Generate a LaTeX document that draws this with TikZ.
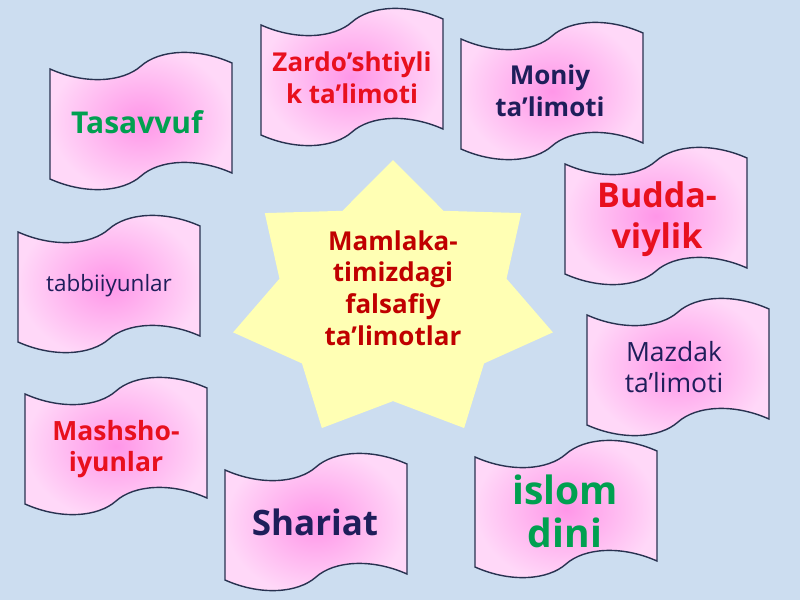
\documentclass[tikz,border=0pt]{standalone}
\usepackage{fontspec}
\setmainfont{Open Sans}
\usetikzlibrary{positioning}
\definecolor{skyback}{RGB}{204,221,240}
\definecolor{flagedge}{RGB}{40,50,80}
\definecolor{flagpink}{RGB}{255,216,248}
\definecolor{flagmagenta}{RGB}{255,150,232}
\definecolor{starfill}{RGB}{255,255,180}
\definecolor{stared}{RGB}{192,0,0}
\definecolor{flagred}{RGB}{232,16,30}
\definecolor{flaggreen}{RGB}{0,160,80}
\definecolor{navy}{RGB}{30,30,90}

\begin{document}
\begin{tikzpicture}[
      x=1pt, y=-1pt,
      wave/.style={draw=flagedge, line width=1.4pt,
        inner color=flagmagenta, outer color=flagpink},
      waveflag/.pic={\path[wave] (-91,-51) .. controls (-55,-35) and (-18,-38) .. (0,-54)
        .. controls (18,-70) and (55,-73) .. (91,-57) -- (91,53)
        .. controls (55,37) and (18,40) .. (0,56)
        .. controls (-18,72) and (-55,75) .. (-91,59) -- cycle;},
      boldtext/.style 2 args={align=center, font=\bfseries\fontsize{#1}{#2}\selectfont},
      thintext/.style 2 args={align=center, font=\fontsize{#1}{#2}\selectfont},
      ]

      \useasboundingbox (0,0) rectangle (800,600);
      \fill[skyback] (0,0) rectangle (800,600);

      \foreach \x/\y in {141/120, 352/76, 552/90, 656/215, 109/283,
                         678/366, 116/445, 316/521, 566/508}
        \pic at (\x,\y) {waveflag};

      \begin{scope}[shift={(393,301)}]
        \fill[starfill] (-90:164 and 141)
          \foreach \k [evaluate=\k as \r using {1-0.29*mod(\k,2)}] in {1,...,13}
            { -- ({-90+\k*360/14}:{164*\r} and {141*\r}) } -- cycle;
      \end{scope}

      \node[boldtext={26}{31.6}, text=stared]   (falsafa)  at (393,288) {Mamlaka-\\timizdagi\\falsafiy\\ta’limotlar};
      \node[boldtext={30}{36}, text=flaggreen]  (tasavvuf) at (137,122) {Tasavvuf};
      \node[boldtext={26}{32}, text=flagred]    (zardusht) at (352,78)  {Zardo’shtiyli\\k ta’limoti};
      \node[boldtext={26}{32}, text=navy]       (moniy)    at (550,91)  {Moniy\\ta’limoti};
      \node[boldtext={34}{41}, text=flagred]    (budda)    at (657,219) {Budda-\\viylik};
      \node[thintext={22.5}{27}, text=navy]     (tabbiiy)  at (109,286) {tabbiiyunlar};
      \node[thintext={26.5}{31}, text=navy]     (mazdak)   at (674,367) {Mazdak\\ta’limoti};
      \node[boldtext={26.5}{31}, text=flagred]  (mashsho)  at (116,449) {Mashsho-\\iyunlar};
      \node[boldtext={35}{40}, text=navy]       (shariat)  at (315,522) {Shariat};
      \node[boldtext={39}{43}, text=flaggreen]  (islom)    at (565,511) {islom\\dini};
    \end{tikzpicture}
\end{document}
